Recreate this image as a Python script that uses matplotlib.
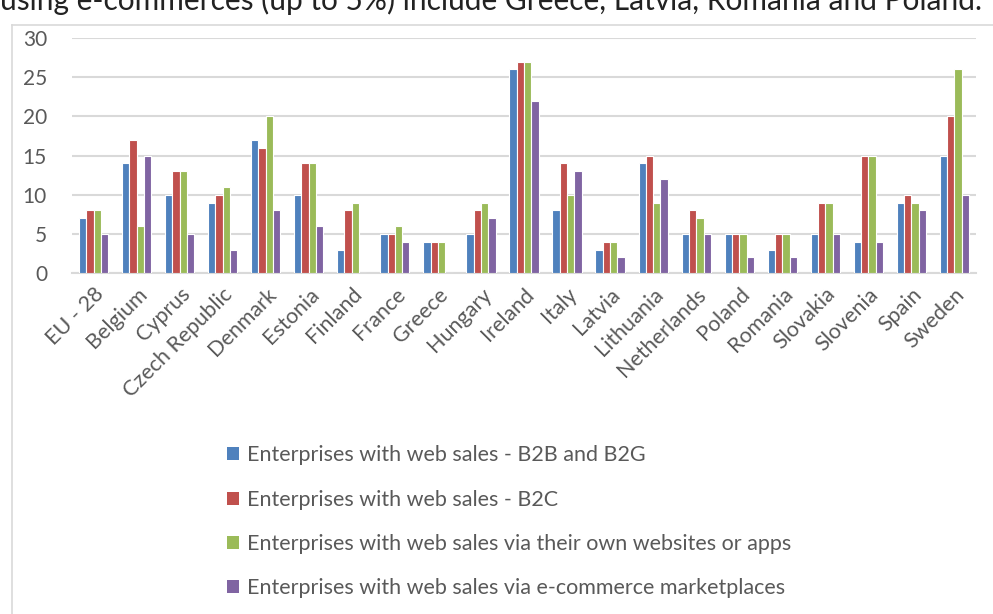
import matplotlib
matplotlib.use("Agg")
import matplotlib.pyplot as plt
import numpy as np
from matplotlib.lines import Line2D
from matplotlib.patches import Patch

plt.rcParams['font.family'] = ['Lato', 'DejaVu Sans']

countries = ["EU - 28", "Belgium", "Cyprus", "Czech Republic", "Denmark", "Estonia",
             "Finland", "France", "Greece", "Hungary", "Ireland", "Italy", "Latvia",
             "Lithuania", "Netherlands", "Poland", "Romania", "Slovakia", "Slovenia",
             "Spain", "Sweden"]

b2b_b2g = [7, 14, 10, 9, 17, 10, 3, 5, 4, 5, 26, 8, 3, 14, 5, 5, 3, 5, 4, 9, 15]
b2c = [8, 17, 13, 10, 16, 14, 8, 5, 4, 8, 27, 14, 4, 15, 8, 5, 5, 9, 15, 10, 20]
own_sites = [8, 6, 13, 11, 20, 14, 9, 6, 4, 9, 27, 10, 4, 9, 7, 5, 5, 9, 15, 9, 26]
marketplaces = [5, 15, 5, 3, 8, 6, 0, 4, 0, 7, 22, 13, 2, 12, 5, 2, 2, 5, 4, 8, 10]

series_labels = ["Enterprises with web sales - B2B and B2G",
                 "Enterprises with web sales - B2C",
                 "Enterprises with web sales via their own websites or apps",
                 "Enterprises with web sales via e-commerce marketplaces"]
colors = ["#4F81BD", "#C0504D", "#9BBB59", "#8064A2"]

y_ticks = [0, 5, 10, 15, 20, 25, 30]

fig = plt.figure(figsize=(9.93, 6.14), dpi=100)
fig.patch.set_facecolor("white")

# Text line from the surrounding document, partly cut off at the top edge
fig.text(0.0, 1.0, "using e-commerces (up to 5%) include Greece, Latvia, Romania and Poland.",
         ha="left", va="center", fontsize=21.5, color="#222222")

# Chart frame border (left and top)
fig.add_artist(Line2D([12/993, 12/993], [0, 1 - 25/614], color="#d9d9d9", lw=1.2,
                      transform=fig.transFigure))
fig.add_artist(Line2D([12/993, 1], [1 - 25/614, 1 - 25/614], color="#d9d9d9", lw=1.2,
                      transform=fig.transFigure))

ax = fig.add_axes([72/993, 1 - 273/614, (976 - 72)/993, (273 - 38)/614])

x = np.arange(len(countries))
all_series = [b2b_b2g, b2c, own_sites, marketplaces]
w = 0.17
for i, (vals, col, lab) in enumerate(zip(all_series, colors, series_labels)):
    ax.bar(x + (i - 1.5) * w, vals, width=w, color=col, edgecolor="white",
           linewidth=0.8, label=lab, zorder=3)

ax.set_xlim(-0.5, len(countries) - 0.5)
ax.set_ylim(0, 30)
ax.set_yticks(y_ticks)
ax.set_yticklabels([str(t) for t in y_ticks], fontsize=15, color="#595959")
ax.yaxis.grid(True, color="#d9d9d9", lw=1.5, zorder=0)
ax.set_axisbelow(True)
for s in ["top", "right", "left"]:
    ax.spines[s].set_visible(False)
ax.spines["bottom"].set_color("#d9d9d9")
ax.spines["bottom"].set_linewidth(1.5)
ax.tick_params(axis="both", length=0)
ax.tick_params(axis="y", pad=18)

ax.set_xticks(x)
ax.set_xticklabels(countries, rotation=45, ha="right", rotation_mode="anchor",
                   fontsize=15.5, color="#595959")
ax.tick_params(axis="x", pad=8)

handles = [Patch(facecolor=c, edgecolor="none") for c in colors]
fig.legend(handles, series_labels, loc="upper left",
           bbox_to_anchor=(208/993, 1 - 426/614), frameon=False,
           fontsize=15.5, labelcolor="#595959", handlelength=0.55, handleheight=0.55,
           handletextpad=0.35, labelspacing=1.13)

fig.savefig("out.png", dpi=100)
